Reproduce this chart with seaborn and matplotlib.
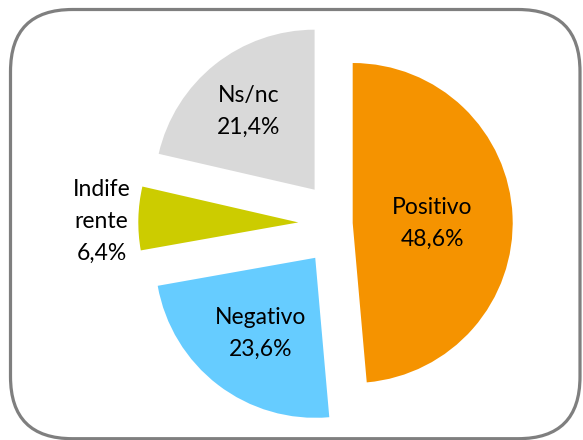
import matplotlib
matplotlib.use("Agg")
import matplotlib.pyplot as plt
from matplotlib.patches import FancyBboxPatch
from matplotlib.transforms import IdentityTransform
import numpy as np
import seaborn as sns

# data
categories = ["Positivo", "Negativo", "Indife\nrente", "Ns/nc"]
values = [48.6, 23.6, 6.4, 21.4]
labels = ["Positivo\n48,6%", "Negativo\n23,6%", "Indife\nrente\n6,4%", "Ns/nc\n21,4%"]
colors = ["#F59300", "#66CCFF", "#CCCC00", "#D9D9D9"]

sns.set_style("white")
plt.rcParams['font.family'] = ['Lato', 'DejaVu Sans']

fig = plt.figure(figsize=(5.83, 4.40), dpi=100)
ax = fig.add_axes([0, 0, 1, 1])

explode = [0.07, 0.27, 0.27, 0.27]
wedges, _ = ax.pie(values, colors=sns.color_palette(colors), startangle=90,
                   counterclock=False, explode=explode, radius=1,
                   wedgeprops=dict(linewidth=0))

# label distance from each slice tip (fraction of radius)
label_dist = [0.5, 0.565, 1.23, 0.66]
for w, lab, d in zip(wedges, labels, label_dist):
    mid = np.deg2rad((w.theta1 + w.theta2) / 2)
    cx, cy = w.center
    ax.text(cx + d * np.cos(mid), cy + d * np.sin(mid) - 0.025, lab,
            ha='center', va='center', fontsize=16.5, color='black',
            linespacing=1.62)

# pie centre at (341.5, 223.5) px, radius 160 px
r_px = 160
ax.set_xlim(-341.5 / r_px, (583 - 341.5) / r_px)
ax.set_ylim(-(440 - 223.5) / r_px, 223.5 / r_px)
ax.set_aspect('equal')
ax.axis('off')

# rounded chart border
border = FancyBboxPatch((10.5, 1.3), 569.5, 429.2,
                        boxstyle="round,pad=0,rounding_size=62",
                        transform=IdentityTransform(), fill=False,
                        edgecolor="#7F7F7F", linewidth=2.3)
fig.patches.append(border)

fig.savefig("out.png", dpi=100)
